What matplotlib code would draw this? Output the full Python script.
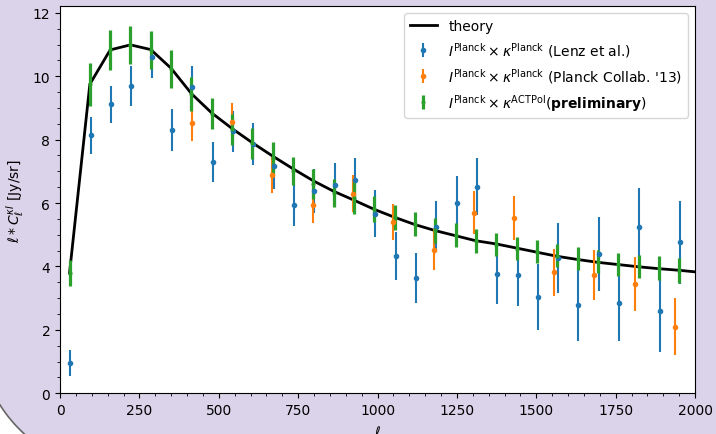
import numpy as np
import matplotlib
matplotlib.use("Agg")
import matplotlib.pyplot as plt
from matplotlib.patches import Polygon
from matplotlib.transforms import IdentityTransform
from matplotlib.ticker import MultipleLocator

# theory curve
ell_theory = [30, 94, 158, 222, 286, 350, 414, 478, 542, 606, 670, 734, 798, 862,
              926, 990, 1054, 1118, 1182, 1246, 1310, 1374, 1438, 1502, 1566, 1630,
              1694, 1758, 1822, 1886, 1950, 2000]
cl_theory = [3.79, 9.75, 10.83, 10.99, 10.84, 10.25, 9.45, 8.84, 8.35, 7.90, 7.48,
             7.08, 6.70, 6.37, 6.09, 5.80, 5.55, 5.32, 5.13, 4.97, 4.81, 4.71, 4.58,
             4.45, 4.32, 4.22, 4.13, 4.06, 3.99, 3.93, 3.88, 3.83]

# I^Planck x kappa^Planck (Lenz et al.)
ell_lenz = [33, 97, 161, 225, 289, 353, 417, 481, 545, 609, 673, 737, 801, 865, 929,
            993, 1057, 1121, 1185, 1249, 1313, 1377, 1441, 1505, 1569, 1633, 1697,
            1761, 1825, 1889, 1953]
cl_lenz = [0.95, 8.14, 9.12, 9.69, 10.62, 8.31, 9.65, 7.29, 8.26, 7.86, 7.16, 5.93,
           6.39, 6.57, 6.72, 5.67, 4.33, 3.64, 5.26, 6.00, 6.51, 3.76, 3.73, 3.04,
           4.26, 2.79, 4.39, 2.85, 5.24, 2.60, 4.76]
err_lenz = [0.41, 0.58, 0.58, 0.63, 0.66, 0.66, 0.66, 0.63, 0.64, 0.66, 0.72, 0.66,
            0.69, 0.70, 0.70, 0.73, 0.75, 0.78, 0.81, 0.86, 0.90, 0.93, 0.97, 1.05,
            1.10, 1.14, 1.17, 1.20, 1.24, 1.30, 1.32]

# I^Planck x kappa^Planck (Planck Collab. '13)
ell_p13 = [416, 543, 669, 796, 923, 1050, 1177, 1303, 1430, 1557, 1683, 1810, 1937]
cl_p13 = [8.52, 8.57, 6.89, 5.93, 6.30, 5.40, 4.53, 5.70, 5.53, 3.81, 3.73, 3.45, 2.10]
err_p13 = [0.55, 0.58, 0.57, 0.55, 0.57, 0.58, 0.64, 0.67, 0.70, 0.75, 0.80, 0.85, 0.89]

# I^Planck x kappa^ACTPol (preliminary)
ell_act = [30, 94, 158, 222, 286, 350, 414, 478, 542, 606, 670, 734, 798, 862, 926,
           990, 1054, 1118, 1182, 1246, 1310, 1374, 1438, 1502, 1566, 1630, 1694,
           1758, 1822, 1886, 1950]
cl_act = [3.79, 9.74, 10.82, 10.98, 10.83, 10.22, 9.44, 8.82, 8.32, 7.88, 7.42, 7.01,
          6.60, 6.32, 6.15, 5.80, 5.55, 5.34, 5.14, 4.98, 4.80, 4.69, 4.56, 4.46,
          4.34, 4.25, 4.15, 4.07, 4.00, 3.94, 3.87]
err_act = [0.41, 0.67, 0.63, 0.60, 0.61, 0.60, 0.55, 0.50, 0.50, 0.49, 0.50, 0.44,
           0.47, 0.44, 0.50, 0.41, 0.40, 0.39, 0.40, 0.38, 0.38, 0.37, 0.37, 0.36,
           0.36, 0.36, 0.36, 0.36, 0.37, 0.38, 0.39]

BG = "#dad3e9"

fig = plt.figure(figsize=(7.16, 4.35), dpi=100, facecolor=BG)

# white corner of the slide at bottom left, in pixels from the bottom-left
cx, cy, r = 120.0, 105.0, 142.0
ang_a = np.arctan2(-np.sqrt(r**2 - cx**2), -cx)   # where the arc meets x = 0
ang_b = np.arctan2(-cy, -np.sqrt(r**2 - cy**2))   # where the arc meets y = 0
ang = np.linspace(ang_a, ang_b, 60)
arc = np.c_[cx + r * np.cos(ang), cy + r * np.sin(ang)]
corner = np.vstack([[0, 0], arc])
fig.patches.append(Polygon(corner, closed=True, transform=IdentityTransform(),
                           facecolor="white", edgecolor="none", zorder=0))
fig.lines.append(plt.Line2D(arc[:, 0], arc[:, 1], transform=IdentityTransform(),
                            color="#666666", lw=1.2, zorder=1))

ax = fig.add_axes([0.0838, 0.0936, 0.8869, 0.8892])
ax.set_facecolor("white")

ax.plot(ell_theory, cl_theory, color="black", lw=2, label="theory")
ax.errorbar(ell_lenz, cl_lenz, yerr=err_lenz, fmt="o", ms=3, color="#1f77b4",
            elinewidth=1.5, label=r"$I^{\rm Planck}\times\kappa^{\rm Planck}$ (Lenz et al.)")
ax.errorbar(ell_p13, cl_p13, yerr=err_p13, fmt="o", ms=3, color="#ff7f0e",
            elinewidth=1.5, label=r"$I^{\rm Planck}\times\kappa^{\rm Planck}$ (Planck Collab. '13)")
ax.errorbar(ell_act, cl_act, yerr=err_act, fmt="o", ms=2, color="#2ca02c",
            elinewidth=2.3, label=r"$I^{\rm Planck}\times\kappa^{\rm ACTPol}$($\mathbf{preliminary}$)")

ax.set_xlim(0, 2000)
ax.set_ylim(0, 12.2)
ax.xaxis.set_major_locator(MultipleLocator(250))
ax.xaxis.set_minor_locator(MultipleLocator(50))
ax.yaxis.set_major_locator(MultipleLocator(2))
ax.yaxis.set_minor_locator(MultipleLocator(0.5))
ax.set_xlabel(r"$\ell$", labelpad=5)
ax.set_ylabel(r"$\ell * C_\ell^{\kappa I}$ [Jy/sr]")
ax.legend(loc="upper right")

fig.savefig("out.png", dpi=100, facecolor=BG)
